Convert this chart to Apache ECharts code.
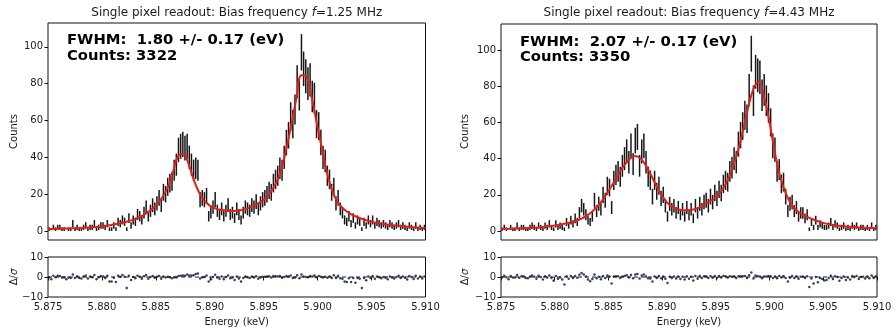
<!DOCTYPE html>
<html>
<head>
<meta charset="utf-8">
<script src="https://cdn.jsdelivr.net/npm/echarts@6/dist/echarts.min.js"></script>
<style>html,body{margin:0;padding:0;background:#fff}#c{width:896px;height:331px}</style>
</head>
<body>
<div id="c"></div>
<script>
// ---- data ----
const binStart = 5.875;      // keV, first bin edge
const binWidth = 0.0002;     // keV
const fitStart = 5.875;
const fitStep = 0.0005;      // keV spacing of fit-curve samples
const xTicks = [5.875, 5.880, 5.885, 5.890, 5.895, 5.900, 5.905, 5.910];
const yTicksMain = [0, 20, 40, 60, 80, 100];
const yTicksRes = [-10, 0, 10];
const titles = ['1.25', '4.43'];
const fwhmLabels = ['FWHM:  1.80 +/- 0.17 (eV)', 'FWHM:  2.07 +/- 0.17 (eV)'];
const countLabels = ['Counts: 3322', 'Counts: 3350'];

// Panel A (f = 1.25 MHz)
const countsA = [
1,0,2,1,2, 2,1,1,0,1, 1,4,1,2,1, 1,2,3,1,2, 2,4,1,2,3,
3,2,4,1,1, 3,1,5,4,6, 5,1,7,3,6, 5,9,8,6,10, 13,8,11,14,12,
15,18,14,21,20, 24,26,27,33,36, 44,46,47,45,46, 40,36,33,34,33, 17,18,17,19,8,
10,13,17,11,9, 12,8,11,14,9, 10,7,12,9,6, 10,13,12,11,14, 13,16,12,15,17,
18,20,22,21,26, 28,30,34,33,40, 48,52,62,58,66, 81,74,97,88,84, 80,82,73,72,58,
57,48,40,38,30, 28,21,24,15,18, 12,10,6,5,8, 4,7,3,6,5, 1,5,3,6,4,
6,3,5,4,3, 4,3,2,4,3, 2,3,4,2,3, 2,1,3,2,1, 3,1,2,1,2
];
const residA = [
-0.15,-1.1,0.6,-0.15,0.6, 0.5,-0.25,-0.25,-1.1,-0.25, -0.45,1.3,-0.45,0.4,-0.45,
-0.7,0.2,0.75,-0.7,0.2, -0.1,0.95,-1.1,-0.1,0.5, 0.2,-0.5,0.65,-2.2,-2.3,
-0.4,-2.5,0.6,0.15,0.95, 0.1,-5.5,0.6,-1.55,-0.05, -0.65,0.65,0.15,-0.9,0.35,
0.95,-0.85,-0.05,0.45,-0.4, 0.1,0.5,-0.9,0.3,-0.3, 0.1,-0.1,-0.6,-0.1,-0.25,
0.5,0.65,0.75,0.65,1.2, 0.8,0.75,0.85,1.55,1.8, -0.8,-0.15,0,0.8,-2.3,
-1.1,0.05,1.15,-0.3,-0.85, 0.2,-1.1,0,0.8,-0.65, -0.3,-1.5,0.3,-0.7,-2.2,
-0.5,0.3,-0.1,-0.55,0.2, -0.2,0.4,-0.85,-0.2,0.1, 0.1,0.25,0.4,-0.2,0.45,
0.4,0.3,0.5,-0.4,0.05, 0.5,0.2,0.75,-0.5,-0.25, 0.85,-0.6,1.3,0.25,0,
-0.15,0.55,0.25,0.8,-0.15, 0.55,0.15,-0.3,0.15,-0.35, 0.2,-0.45,0.9,-0.5,0.6,
-0.6,-0.9,-2.2,-2.5,-0.65, -2.5,-0.55,-2.9,-0.55,-0.9, -5.5,-0.5,-1.6,0.25,-0.55,
0.45,-0.9,0.25,-0.1,-0.6, 0.05,-0.4,-1.1,0.3,-0.2, -0.8,0,0.6,-0.5,0.25,
-0.35,-1.3,0.45,-0.05,-1.0, 0.65,-0.8,0.2,-0.7,0.3
];
const fitA = [
1.1,1.15,1.2,1.3,1.4,1.5,1.6,1.8,2.0,2.2,
2.5,2.9,3.4,4.0,4.6,5.4,6.3,7.6,9.2,11.2,
14.0,17.5,22.5,30,40,42,37,28,21,16.5,
13.8,12.3,11.5,11.1,10.9,11.0,11.5,12.3,13.5,15,
17,20,24.5,31,42,56,71,84.5,83.5,71,
56,42,28.5,19.5,14.5,11.5,9.4,8,6.8,5.8,
5.0,4.4,3.9,3.5,3.1,2.8,2.5,2.2,2.0,1.8,1.6
];

// Panel B (f = 4.43 MHz)
const countsB = [
1,2,1,0,2, 1,1,3,1,2, 2,1,1,2,3, 2,1,3,2,1, 3,2,4,2,1,
4,2,3,2,1, 5,3,6,4,7, 5,10,14,12,9, 6,5,8,17,11, 15,12,20,17,25,
24,13,28,31,33, 30,36,40,44,38, 47,37,50,52,36, 44,47,38,30,28, 19,28,22,25,18,
20,14,8,15,12, 14,10,13,9,12, 8,13,9,12,7, 14,10,15,12,16, 17,14,19,16,21,
18,23,21,26,28, 27,33,35,40,38, 48,53,58,64,62, 78,98,72,88,86, 85,75,78,72,68,
60,47,45,33,34, 26,27,19,11,15, 16,11,13,8,10, 10,7,9,1,5, 2,6,2,4,3,
2,2,3,5,2, 4,3,1,2,3, 1,2,1,3,2, 3,1,2,2,1, 2,1,3,1,2
];
const residB = [
-0.1,0.6,-0.15,-1.1,0.55, -0.25,-0.3,0.95,-0.35,0.4, 0.35,-0.55,-0.6,0.25,0.7,
0.1,-0.9,0.6,-0.05,-1.2, 0.35,-0.3,0.7,-0.55,-1.9, 0.45,-0.9,-0.3,-1.25,-3.8,
0.35,-0.85,0.5,-0.55,0.55, -0.4,1.15,1.95,1.3,0.25, -1.2,-2.1,-1.0,1.2,-0.65,
0.15,-1.15,0.55,-0.55,0.8, 0.2,-3.3,0.2,0.35,0.35, -0.55,0.2,0.55,0.9,-0.2,
1.0,-0.65,1.2,1.5,-0.75, 0.7,1.3,0.3,-0.65,-0.7, -2.3,0.2,-0.55,0.5,-0.6,
0.3,-0.85,-3.0,0.15,-0.45, 0.25,-0.8,0.3,-0.95,0.1, -1.25,0.4,-0.85,0.1,-1.8,
0.5,-0.85,0.45,-0.55,0.35, 0.4,-0.55,0.5,-0.4,0.55, -0.35,0.5,-0.2,0.45,0.4,
-0.25,0.4,0.15,0.4,-0.5, 0.4,0.4,0.4,0.5,-0.45, 0.85,2.3,-0.75,0.75,0.4,
0.3,-0.6,0.25,0.2,0.5, 0.4,-0.45,0.3,-0.6,0.5, -0.3,0.5,-0.45,-2.2,-0.4,
0.45,-0.55,0.4,-0.9,0.1, 0.3,-0.55,0.4,-5.0,-0.8, -3.2,0.05,-2.6,-0.5,-1.0,
-1.7,-1.5,-0.45,0.65,-1.0, 0.4,0,-1.9,-0.55,0.25, -1.5,-0.3,-1.3,0.45,-0.05,
0.55,-0.95,0.05,0.1,-0.8, 0.2,-0.65,0.8,-0.55,0.35
];
const fitB = [
1.1,1.15,1.25,1.35,1.5,1.6,1.8,2.0,2.3,2.6,
3.0,3.5,4.1,4.8,5.7,6.8,8.6,10.8,13.8,17.5,
22,27,32,36.5,40,41.5,40,36,30.5,24.5,
19.5,15.5,13.2,12,11.5,11.5,12,13.2,15,16.8,
18.8,22,27,34,43,55,68,78.5,82.5,74,
60,43,30,21,15,11.5,9.3,7.8,6.5,5.4,
4.5,3.8,3.3,2.9,2.6,2.3,2.1,1.9,1.75,1.6,1.5
];

// ---- chart ----
const FONT = 'DejaVu Sans';
const TXT = '#1a1a1a';
const chart = echarts.init(document.getElementById('c'), null, {renderer: 'canvas'});

const grids = [
  {left: 48, top: 23, width: 377.5, height: 217},
  {left: 48, top: 257, width: 377.5, height: 40},
  {left: 501, top: 24, width: 376, height: 216},
  {left: 501, top: 257, width: 376, height: 40}
].map(g => Object.assign({show: true, borderColor: '#111', borderWidth: 1, backgroundColor: 'transparent', containLabel: false}, g));

const yRanges = [[-4.88, 112.9], [-10, 10], [-4.97, 114.4], [-10, 10]];

const xAxes = grids.map((g, i) => ({
  type: 'value', gridIndex: i, min: 5.875, max: 5.910,
  axisLine: {show: false},
  splitLine: {show: false},
  axisTick: {show: i % 2 === 1, customValues: xTicks, length: 3.5, lineStyle: {color: '#111'}},
  axisLabel: {show: i % 2 === 1, customValues: xTicks, margin: 5, fontFamily: FONT, fontSize: 10, color: TXT,
    formatter: v => v.toFixed(3)}
}));

const yAxes = grids.map((g, i) => {
  const ticks = i % 2 === 0 ? yTicksMain : yTicksRes;
  return {
    type: 'value', gridIndex: i, min: yRanges[i][0], max: yRanges[i][1],
    axisLine: {show: false},
    splitLine: {show: false},
    axisTick: {show: true, customValues: ticks, length: 3.5, lineStyle: {color: '#111'}},
    axisLabel: {show: true, customValues: ticks, margin: 5, fontFamily: FONT, fontSize: 10, color: TXT,
      formatter: v => (v < 0 ? '\u2212' + Math.abs(v) : String(v))}
  };
});

function errSeries(counts, axisIdx) {
  const data = counts.map((n, i) => {
    const x = binStart + binWidth * (i + 0.5);
    const s = Math.sqrt(n);
    return [x, n - s, n + s];
  });
  return {
    type: 'custom', xAxisIndex: axisIdx, yAxisIndex: axisIdx, data: data,
    encode: {x: 0, y: [1, 2]}, clip: true, silent: true,
    renderItem: (params, api) => {
      const p1 = api.coord([api.value(0), api.value(1)]);
      const p2 = api.coord([api.value(0), api.value(2)]);
      return {type: 'line', shape: {x1: p1[0], y1: p1[1], x2: p2[0], y2: p2[1]},
        style: {stroke: '#161616', lineWidth: 1.5}};
    }
  };
}
function fitSeries(fit, axisIdx) {
  return {
    type: 'line', xAxisIndex: axisIdx, yAxisIndex: axisIdx, smooth: 0.4, showSymbol: false, silent: true,
    data: fit.map((v, i) => [fitStart + fitStep * i, v]),
    lineStyle: {color: '#e0201b', width: 2}, z: 5
  };
}
function zeroSeries(axisIdx) {
  return {
    type: 'line', xAxisIndex: axisIdx, yAxisIndex: axisIdx, showSymbol: false, silent: true,
    data: [[5.875, 0], [5.910, 0]],
    lineStyle: {color: '#4a64c4', width: 1.4, type: [4, 3]}, z: 2
  };
}
function residSeries(res, axisIdx) {
  return {
    type: 'scatter', xAxisIndex: axisIdx, yAxisIndex: axisIdx, silent: true,
    data: res.map((v, i) => [binStart + binWidth * (i + 0.5), v]),
    symbol: 'circle', symbolSize: 2.5, itemStyle: {color: '#111'}, z: 3
  };
}

const graphics = [];
const centers = [48 + 377.5 / 2, 501 + 376 / 2];
const yLabelX = [14, 465];
const annoX = [67, 520];
const annoY = [[40.5, 56], [42.5, 57]];
for (let p = 0; p < 2; p++) {
  graphics.push({
    type: 'text', x: centers[p], y: 13,
    style: {
      text: '{a|Single pixel readout: Bias frequency }{i|f}{a|=' + titles[p] + ' MHz}',
      align: 'center', verticalAlign: 'middle',
      rich: {
        a: {fontFamily: FONT, fontSize: 12, fill: TXT},
        i: {fontFamily: FONT, fontSize: 12, fontStyle: 'italic', fill: TXT}
      }
    }
  });
  graphics.push({type: 'text', x: annoX[p], y: annoY[p][0],
    style: {text: fwhmLabels[p], fontFamily: FONT, fontSize: 14.8, fontWeight: 'bold', fill: '#000', verticalAlign: 'middle'}});
  graphics.push({type: 'text', x: annoX[p], y: annoY[p][1],
    style: {text: countLabels[p], fontFamily: FONT, fontSize: 14.8, fontWeight: 'bold', fill: '#000', verticalAlign: 'middle'}});
  graphics.push({type: 'text', x: yLabelX[p], y: 131.5, rotation: Math.PI / 2,
    style: {text: 'Counts', fontFamily: FONT, fontSize: 10, fill: TXT, align: 'center', verticalAlign: 'middle'}});
  graphics.push({type: 'text', x: yLabelX[p], y: 277, rotation: Math.PI / 2,
    style: {text: '{a|\u0394/}{i|\u03c3}', align: 'center', verticalAlign: 'middle',
      rich: {a: {fontFamily: FONT, fontSize: 10, fill: TXT}, i: {fontFamily: FONT, fontSize: 10, fontStyle: 'italic', fill: TXT}}}});
  graphics.push({type: 'text', x: centers[p], y: 322,
    style: {text: 'Energy (keV)', fontFamily: FONT, fontSize: 10, fill: TXT, align: 'center', verticalAlign: 'middle'}});
}

chart.setOption({
  animation: false,
  backgroundColor: '#fff',
  grid: grids,
  xAxis: xAxes,
  yAxis: yAxes,
  graphic: graphics,
  series: [
    errSeries(countsA, 0), fitSeries(fitA, 0),
    zeroSeries(1), residSeries(residA, 1),
    errSeries(countsB, 2), fitSeries(fitB, 2),
    zeroSeries(3), residSeries(residB, 3)
  ]
});
</script>
</body>
</html>
